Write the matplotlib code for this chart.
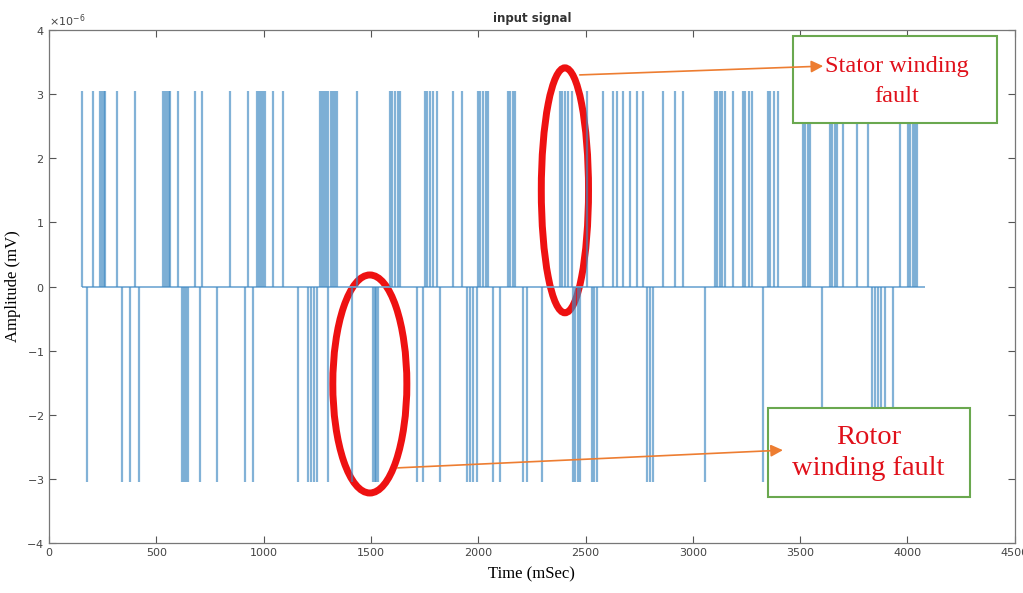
import numpy as np
import matplotlib.pyplot as plt
from matplotlib.patches import Ellipse, Rectangle, FancyArrowPatch
from matplotlib.ticker import ScalarFormatter

plt.rcParams['axes.unicode_minus'] = False

# spike amplitude (shown with x10^-6 offset)
amp = 3.05e-6
t_start, t_end = 154, 4082

# times (mSec) of positive spikes
up_times = [152, 204, 236, 246, 256, 262, 315, 401, 531, 540, 550, 558, 566, 601, 680, 711,
            842, 927, 969, 978, 988, 998, 1006, 1043, 1090,
            1262, 1272, 1282, 1292, 1302, 1312, 1322, 1332, 1342, 1435,
            1588, 1598, 1612, 1625, 1635, 1752, 1762, 1775, 1790, 1807, 1882, 1924,
            1999, 2010, 2022, 2035, 2045, 2140, 2150, 2160, 2171,
            2380, 2392, 2405, 2420, 2436, 2506, 2581, 2627, 2646, 2674, 2706, 2739, 2767,
            2860, 2916, 2953, 3102, 3112, 3125, 3138, 3149, 3187, 3233, 3245, 3262, 3275,
            3349, 3362, 3380, 3396, 3512, 3522, 3536, 3545, 3638, 3650, 3662, 3671, 3699,
            3764, 3815, 3964, 4001, 4012, 4024, 4035, 4043]

# times (mSec) of negative spikes
down_times = [176, 339, 377, 421, 620, 630, 640, 648, 703, 781, 913, 950, 1160,
              1206, 1220, 1234, 1248, 1300, 1411, 1509, 1517, 1525, 1533,
              1714, 1742, 1822, 1947, 1960, 1975, 1994, 2068, 2101, 2208, 2227, 2295,
              2441, 2452, 2463, 2474, 2530, 2540, 2553, 2786, 2800, 2814,
              3056, 3326, 3601, 3834, 3848, 3862, 3877, 3894, 3932]

fig = plt.figure(figsize=(10.23, 5.93), dpi=100)
ax = fig.add_axes([0.0479, 0.0843, 0.944, 0.8651])

spike_col = '#3f89c2'
ax.hlines(0, t_start, t_end, color='#6fa7d3', lw=1.2)
ax.vlines(up_times, 0, amp, color=spike_col, lw=1.6, alpha=0.65)
ax.vlines(down_times, -amp, 0, color=spike_col, lw=1.6, alpha=0.65)

ax.set_xlim(0, 4500)
ax.set_ylim(-4e-6, 4e-6)
ax.set_xticks(np.arange(0, 4501, 500))
ax.set_yticks(np.arange(-4, 5) * 1e-6)
fmt = ScalarFormatter(useMathText=True)
fmt.set_powerlimits((-3, 3))
ax.yaxis.set_major_formatter(fmt)
ax.yaxis.get_offset_text().set_fontsize(8)
ax.yaxis.get_offset_text().set_color('#555555')

ax.tick_params(direction='in', top=True, right=True, length=5, width=0.8,
               labelsize=8, colors='#555555', labelcolor='#444444')
for s in ax.spines.values():
    s.set_color('#777777')
    s.set_linewidth(0.9)

ax.set_title('input signal', fontsize=8.5, fontweight='bold', color='#333333', pad=6)
ax.set_xlabel('Time (mSec)', family='Liberation Serif', fontsize=12, labelpad=6)
ax.set_ylabel('Amplitude (mV)', family='Liberation Serif', fontsize=12, labelpad=4)

# red ellipses marking the faults
ax.add_patch(Ellipse((2404, 1.50e-6), 220, 3.82e-6, fill=False, ec='#ee1111', lw=5))
ax.add_patch(Ellipse((1495, -1.52e-6), 345, 3.40e-6, fill=False, ec='#ee1111', lw=5))

# text boxes
box_ec = '#6aa84f'
fig.add_artist(Rectangle((0.775, 0.7926), 0.2, 0.1467, transform=fig.transFigure,
                         fc='white', ec=box_ec, lw=1.5, zorder=5))
fig.text(0.877, 0.862, 'Stator winding\nfault', ha='center', va='center', color='#e0101a',
         family='Liberation Serif', fontsize=17.5, linespacing=1.55, zorder=6)
fig.add_artist(Rectangle((0.7507, 0.1619), 0.1975, 0.1501, transform=fig.transFigure,
                         fc='white', ec=box_ec, lw=1.5, zorder=5))
fig.text(0.849, 0.236, 'Rotor\nwinding fault', ha='center', va='center', color='#e0101a',
         family='Liberation Serif', fontsize=20.5, linespacing=1.35, zorder=6)

# orange arrows
arrow_col = '#ed7d31'
for p0, p1 in [((0.564, 0.8735), (0.8074, 0.8887)), ((0.386, 0.2108), (0.768, 0.2411))]:
    fig.add_artist(FancyArrowPatch(p0, p1, transform=fig.transFigure, arrowstyle='-|>',
                                   color=arrow_col, lw=1.2, mutation_scale=18, zorder=7))

fig.savefig('out.png', dpi=100)
